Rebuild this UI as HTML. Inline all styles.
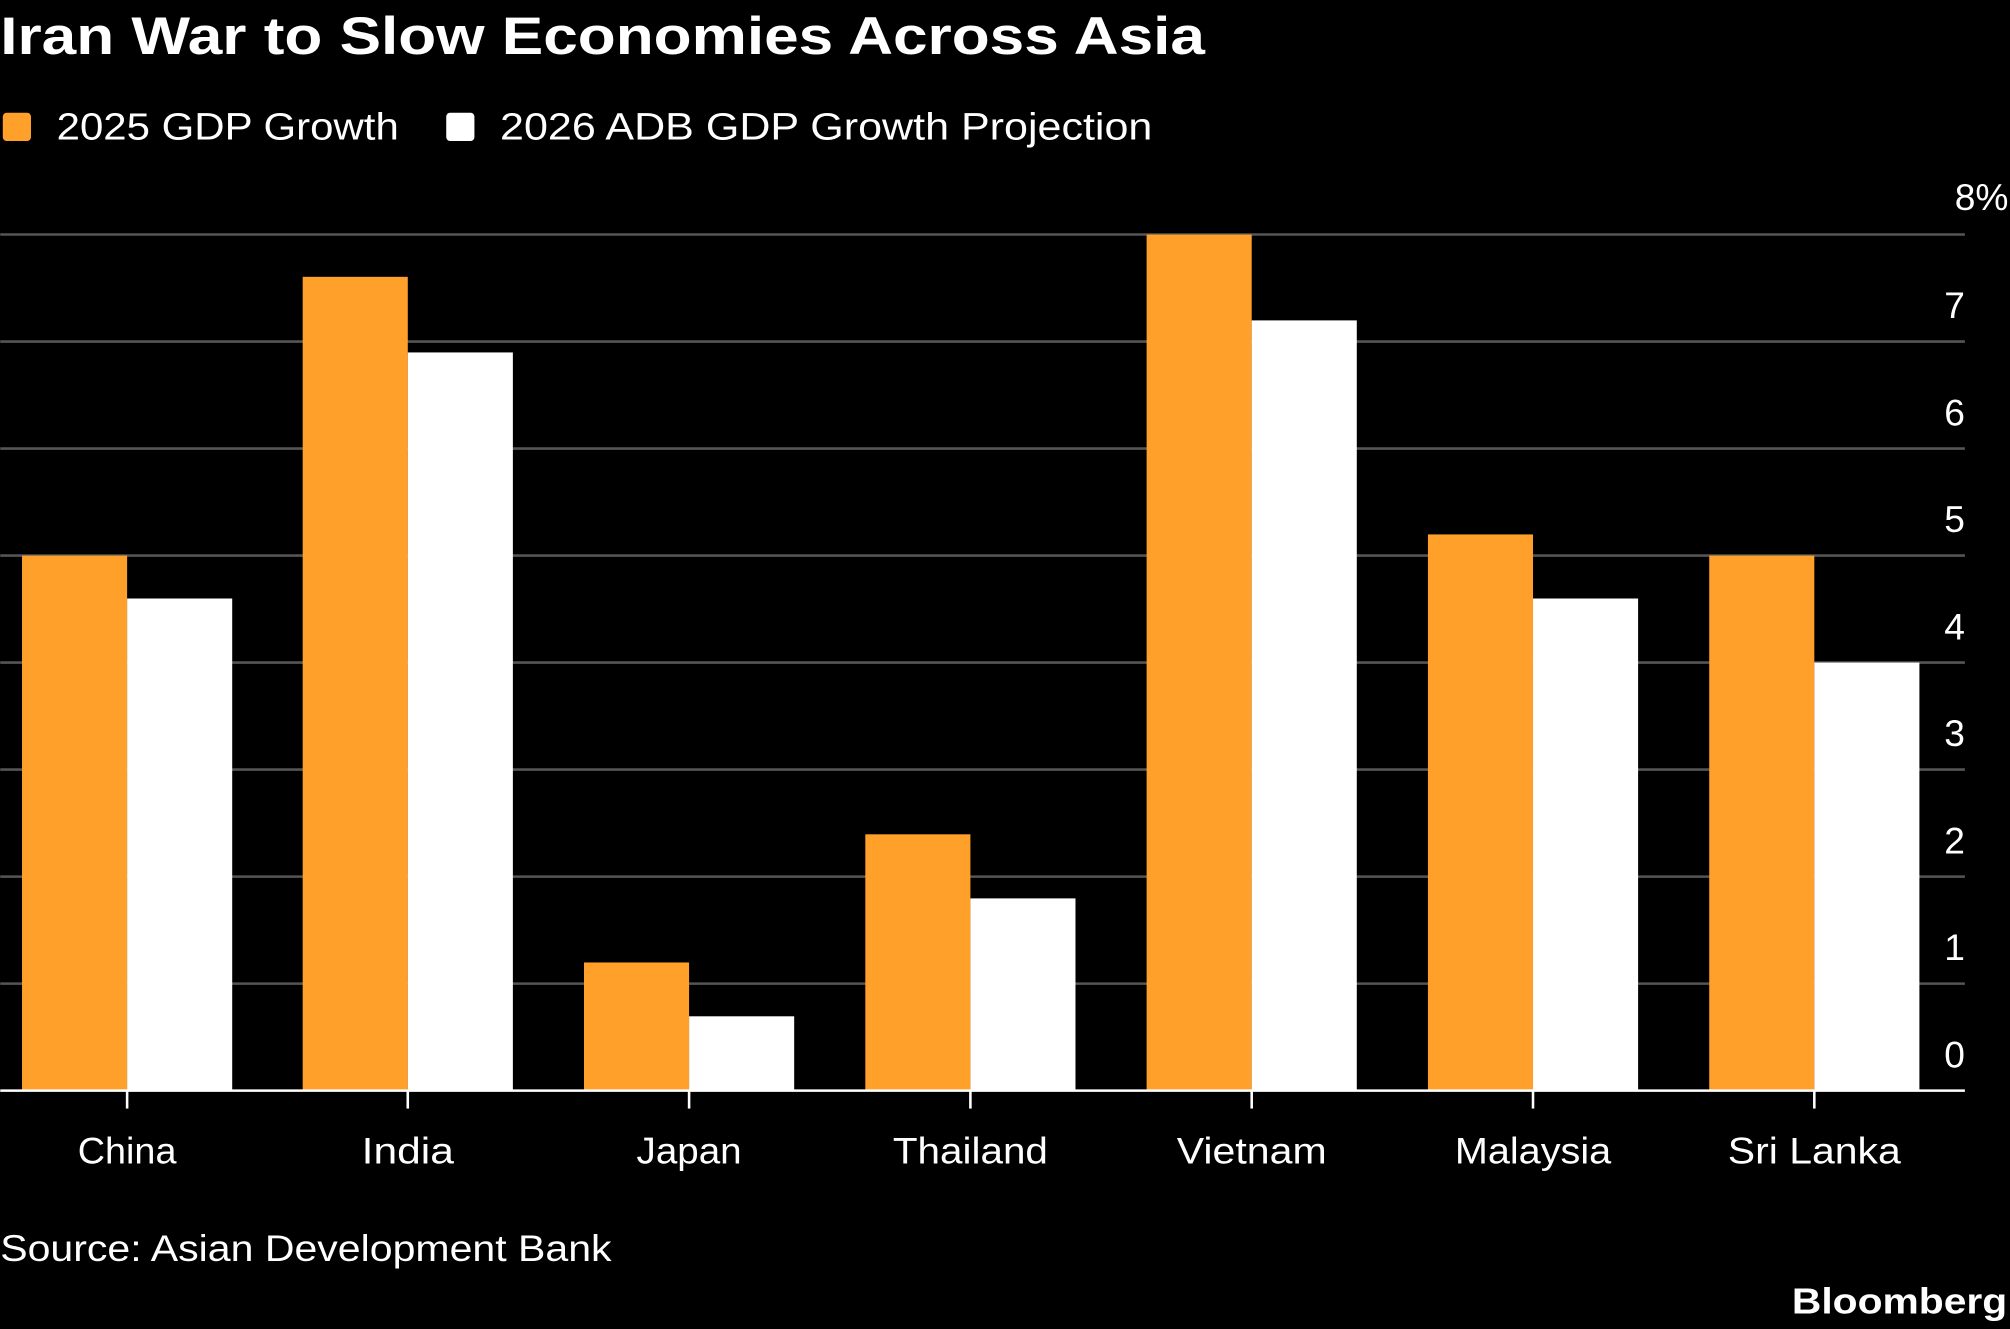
<!DOCTYPE html>
<html><head><meta charset="utf-8"><style>
html,body{margin:0;padding:0;background:#000;}
svg{display:block}
text{font-family:"Liberation Sans",sans-serif;fill:#fff}
</style></head><body>
<svg width="2010" height="1329" viewBox="0 0 1568 1037" xmlns="http://www.w3.org/2000/svg">
<rect width="1568" height="1037" fill="#000"/>
<text x="0" y="42" font-size="41" font-weight="bold" textLength="940" lengthAdjust="spacingAndGlyphs">Iran War to Slow Economies Across Asia</text>
<rect x="2" y="88" width="22" height="22" rx="3" fill="#ffa02b"/>
<text x="44" y="109" font-size="30" textLength="267" lengthAdjust="spacingAndGlyphs">2025 GDP Growth</text>
<rect x="348" y="88" width="22" height="22" rx="3" fill="#fff"/>
<text x="390" y="109" font-size="30" textLength="509" lengthAdjust="spacingAndGlyphs">2026 ADB GDP Growth Projection</text>
<g stroke="#555" stroke-width="2">
<line x1="0" x2="1533" y1="183" y2="183"/>
<line x1="0" x2="1533" y1="266.5" y2="266.5"/>
<line x1="0" x2="1533" y1="350" y2="350"/>
<line x1="0" x2="1533" y1="433.5" y2="433.5"/>
<line x1="0" x2="1533" y1="517" y2="517"/>
<line x1="0" x2="1533" y1="600.5" y2="600.5"/>
<line x1="0" x2="1533" y1="684" y2="684"/>
<line x1="0" x2="1533" y1="767.5" y2="767.5"/>
</g>
<g font-size="29" text-anchor="middle">
<text x="1546" y="164">8%</text>
<text x="1525" y="248">7</text>
<text x="1525" y="332">6</text>
<text x="1525" y="415">5</text>
<text x="1525" y="499">4</text>
<text x="1525" y="582">3</text>
<text x="1525" y="666">2</text>
<text x="1525" y="749">1</text>
<text x="1525" y="833">0</text>
</g>
<g fill="#ffa02b">
<rect x="17" y="433.5" width="82" height="417.5"/>
<rect x="236" y="216" width="82" height="635"/>
<rect x="455.5" y="751" width="82" height="100"/>
<rect x="675" y="651" width="82" height="200"/>
<rect x="894.5" y="183" width="82" height="668"/>
<rect x="1114" y="417" width="82" height="434"/>
<rect x="1333.5" y="433.5" width="82" height="417.5"/>
</g>
<g fill="#fff">
<rect x="99" y="467" width="82" height="384"/>
<rect x="318" y="275" width="82" height="576"/>
<rect x="537.5" y="793" width="82" height="58"/>
<rect x="757" y="701" width="82" height="150"/>
<rect x="976.5" y="250" width="82" height="601"/>
<rect x="1196" y="467" width="82" height="384"/>
<rect x="1415.5" y="517" width="82" height="334"/>
</g>
<line x1="0" x2="1533" y1="851" y2="851" stroke="#fff" stroke-width="2"/>
<g stroke="#fff" stroke-width="2">
<line x1="99" x2="99" y1="851" y2="865"/>
<line x1="318" x2="318" y1="851" y2="865"/>
<line x1="537.5" x2="537.5" y1="851" y2="865"/>
<line x1="757" x2="757" y1="851" y2="865"/>
<line x1="976.5" x2="976.5" y1="851" y2="865"/>
<line x1="1196" x2="1196" y1="851" y2="865"/>
<line x1="1415.5" x2="1415.5" y1="851" y2="865"/>
</g>
<g font-size="29" text-anchor="middle" lengthAdjust="spacingAndGlyphs">
<text x="99" y="908" textLength="77" lengthAdjust="spacingAndGlyphs">China</text>
<text x="318" y="908" textLength="72" lengthAdjust="spacingAndGlyphs">India</text>
<text x="537.5" y="908" textLength="82" lengthAdjust="spacingAndGlyphs">Japan</text>
<text x="757" y="908" textLength="121" lengthAdjust="spacingAndGlyphs">Thailand</text>
<text x="976.5" y="908" textLength="117" lengthAdjust="spacingAndGlyphs">Vietnam</text>
<text x="1196" y="908" textLength="122" lengthAdjust="spacingAndGlyphs">Malaysia</text>
<text x="1415.5" y="908" textLength="135" lengthAdjust="spacingAndGlyphs">Sri Lanka</text>
</g>
<text x="0" y="984" font-size="29" textLength="477" lengthAdjust="spacingAndGlyphs">Source: Asian Development Bank</text>
<text x="1398" y="1025" font-size="28" font-weight="bold" textLength="168" lengthAdjust="spacingAndGlyphs">Bloomberg</text>
</svg>
</body></html>
